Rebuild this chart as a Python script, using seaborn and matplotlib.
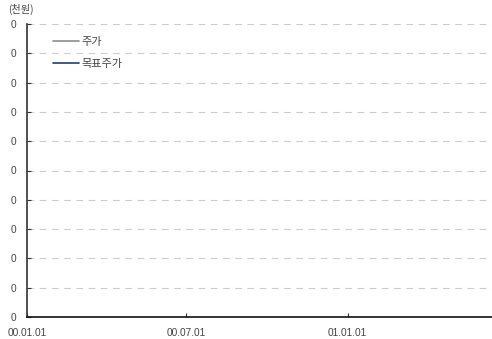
import matplotlib
matplotlib.use("Agg")
import matplotlib.pyplot as plt
from matplotlib.ticker import FuncFormatter
from matplotlib.lines import Line2D
import seaborn as sns
import numpy as np
import pandas as pd

# chart data (the source chart has no visible values)
dates = pd.to_datetime(["2000-01-01", "2000-07-01", "2001-01-01", "2001-06-15"])
price = [np.nan, np.nan, np.nan, np.nan]
target = [np.nan, np.nan, np.nan, np.nan]
tick_dates = pd.to_datetime(["2000-01-01", "2000-07-01", "2001-01-01"])
tick_labels = ["00.01.01", "00.07.01", "01.01.01"]
y_ticks = [0, 90, 180, 270, 360, 450, 540, 630, 720, 810, 900]

sns.set_style("white")
plt.rcParams["font.family"] = ["Liberation Sans", "Noto Sans CJK KR", "DejaVu Sans"]
plt.rcParams["font.size"] = 7

fig = plt.figure(figsize=(4.92, 3.39), dpi=100)
ax = fig.add_axes([27 / 492, 1 - 317 / 339, 465 / 492, (317 - 24) / 339])

df = pd.DataFrame({"date": dates, "price": price, "target": target})
sns.lineplot(data=df, x="date", y="price", ax=ax, color="#8c8c8c", lw=1.2)
sns.lineplot(data=df, x="date", y="target", ax=ax, color="#1c3f74", lw=1.2)

ax.set_xlim(pd.Timestamp("2000-01-01"), pd.Timestamp("2001-06-15"))
ax.set_ylim(0, 900)
ax.set_yticks(y_ticks)
ax.yaxis.set_major_formatter(FuncFormatter(lambda v, p: f"{int(v // 1000)}"))
ax.set_xticks(tick_dates)
ax.set_xticklabels(tick_labels)
ax.set_xlabel("")
ax.set_ylabel("")

for y in y_ticks[1:]:
    ax.axhline(y, color="#cccccc", lw=0.8, ls=(0, (6, 5)), zorder=0)

for s in ["top", "right"]:
    ax.spines[s].set_visible(False)
ax.spines["left"].set_color("#333333")
ax.spines["left"].set_linewidth(1.2)
ax.spines["bottom"].set_color("#111111")
ax.spines["bottom"].set_linewidth(1.2)
ax.tick_params(axis="both", left=True, bottom=True, direction="in", length=3,
               width=0.8, colors="#333333", labelcolor="#444444", labelsize=7.3)
ax.tick_params(axis="y", pad=8)
ax.tick_params(axis="x", pad=8)

handles = [Line2D([], [], color="#8c8c8c", lw=1.2),
           Line2D([], [], color="#1c3f74", lw=1.2)]
leg = ax.legend(handles, ["주가", "목표주가"], loc="upper left", frameon=False,
                bbox_to_anchor=(0.035, 0.99), handlelength=2.3, handletextpad=0.2,
                labelspacing=1.1, fontsize=8)
for t in leg.get_texts():
    t.set_family(["Noto Sans CJK KR", "DejaVu Sans"])
    t.set_color("#444444")

fig.text(8 / 492, 1 - 9 / 339, "(천원)", fontsize=7.3, color="#444444",
         family=["Noto Sans CJK KR", "DejaVu Sans"], va="center")

fig.savefig("out.png", dpi=100)
